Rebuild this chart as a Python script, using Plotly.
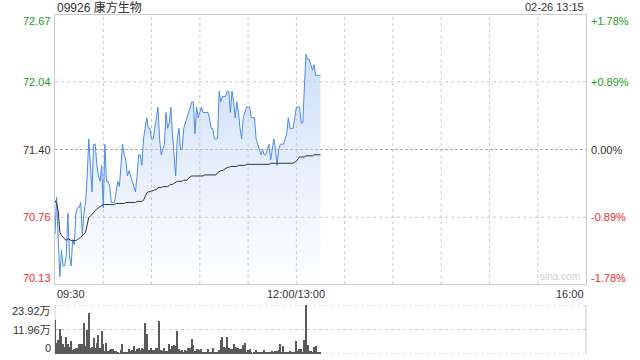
import plotly.graph_objects as go

# ---------------- data ----------------
title_text = "09926 康方生物"
time_text = "02-26 13:15"
prev_close = 71.40
price_ticks = [72.67, 72.04, 71.40, 70.76, 70.13]
pct_ticks = ["+1.78%", "+0.89%", "0.00%", "-0.89%", "-1.78%"]
vol_ticks = [23.92, 11.96, 0]
vol_tick_text = ["23.92万", "11.96万", "0"]
x_tick_text = ["09:30", "12:00/13:00", "16:00"]
x_tick_pos = [0, 150, 330]

prices = [
    70.60, 70.95, 70.55, 70.20, 70.45, 70.30, 70.30, 70.40, 70.80, 70.40,
    70.30, 70.55, 70.50, 70.80, 70.85, 70.85, 70.90, 70.60, 70.80, 70.90,
    71.15, 71.50, 71.25, 71.00, 71.45, 71.45, 71.25, 71.15, 71.10, 71.25,
    70.85, 71.45, 71.10, 71.10, 71.05, 70.90, 70.90, 70.90, 71.00, 71.10,
    71.05, 71.25, 71.45, 71.35, 71.30, 71.15, 71.20, 71.15, 71.10, 71.05,
    71.00, 71.15, 71.35, 71.35, 71.25, 71.50, 71.60, 71.70, 71.60, 71.60,
    71.50, 71.50, 71.60, 71.70, 71.80, 71.50, 71.35, 71.40, 71.45, 71.75,
    71.60, 71.65, 71.80, 71.55, 71.35, 71.15, 71.50, 71.60, 71.40, 71.40,
    71.60, 71.65, 71.70, 71.75, 71.80, 71.85, 71.85, 71.55, 71.80, 71.70,
    71.75, 71.80, 71.75, 71.75, 71.75, 71.75, 71.70, 71.60, 71.60, 71.50,
    71.50, 71.50, 71.95, 71.85, 71.90, 71.90, 71.90, 71.95, 71.95, 71.75,
    71.95, 71.85, 71.70, 71.85, 71.75, 71.60, 71.50, 71.70, 71.75, 71.80,
    71.80, 71.80, 71.70, 71.70, 71.70, 71.50, 71.45, 71.40, 71.35, 71.40,
    71.35, 71.35, 71.40, 71.45, 71.30, 71.40, 71.50, 71.40, 71.25, 71.40,
    71.45, 71.45, 71.45, 71.50, 71.55, 71.70, 71.60, 71.60, 71.60, 71.70,
    71.80, 71.80, 71.80, 71.65, 71.65, 72.00, 72.30, 72.25, 72.25, 72.20,
    72.15, 72.20, 72.10, 72.10, 72.10, 72.10,
]

avg_prices = [
    70.92, 70.89, 70.82, 70.62, 70.59, 70.57, 70.55, 70.54, 70.56, 70.55,
    70.54, 70.54, 70.54, 70.54, 70.55, 70.56, 70.57, 70.59, 70.60, 70.62,
    70.71, 70.76, 70.77, 70.79, 70.81, 70.82, 70.84, 70.85, 70.86, 70.87,
    70.88, 70.88, 70.88, 70.88, 70.88, 70.88, 70.88, 70.88, 70.89, 70.89,
    70.89, 70.89, 70.89, 70.89, 70.90, 70.90, 70.90, 70.90, 70.90, 70.90,
    70.90, 70.91, 70.91, 70.91, 70.91, 70.92, 70.95, 70.99, 71.00, 71.00,
    71.01, 71.01, 71.02, 71.02, 71.04, 71.04, 71.04, 71.05, 71.05, 71.05,
    71.05, 71.06, 71.07, 71.07, 71.08, 71.09, 71.10, 71.10, 71.10, 71.10,
    71.11, 71.11, 71.11, 71.13, 71.14, 71.15, 71.15, 71.15, 71.15, 71.15,
    71.15, 71.15, 71.15, 71.16, 71.16, 71.16, 71.16, 71.16, 71.16, 71.16,
    71.16, 71.18, 71.19, 71.20, 71.20, 71.21, 71.22, 71.23, 71.23, 71.24,
    71.24, 71.24, 71.24, 71.24, 71.25, 71.25, 71.25, 71.25, 71.25, 71.26,
    71.26, 71.26, 71.26, 71.26, 71.26, 71.26, 71.26, 71.26, 71.26, 71.26,
    71.26, 71.26, 71.26, 71.26, 71.27, 71.27, 71.27, 71.27, 71.27, 71.27,
    71.27, 71.27, 71.27, 71.27, 71.27, 71.27, 71.27, 71.27, 71.27, 71.28,
    71.29, 71.31, 71.33, 71.33, 71.33, 71.33, 71.34, 71.34, 71.34, 71.34,
    71.34, 71.35, 71.35, 71.35, 71.35, 71.35,
]

volumes = [  # 万股 per minute
    16.8, 5.4, 6.9, 12.1, 8.7, 5.0, 3.5, 8.2, 5.0, 3.5,
    6.3, 1.9, 2.2, 3.1, 2.7, 5.0, 5.0, 5.0, 15.3, 4.1,
    11.6, 20.0, 3.1, 3.5, 7.9, 2.7, 5.4, 9.4, 3.1, 11.0,
    5.0, 1.6, 5.4, 1.6, 1.9, 2.5, 2.5, 1.3, 1.6, 0.9,
    0.3, 1.9, 4.7, 1.1, 0.6, 0.5, 2.4, 1.4, 1.9, 3.8,
    1.6, 2.2, 3.1, 1.9, 3.0, 2.4, 15.3, 9.8, 1.9, 1.9,
    3.1, 1.9, 1.9, 2.7, 3.1, 16.1, 1.9, 1.6, 3.1, 1.6,
    1.6, 5.0, 2.4, 4.1, 4.2, 3.8, 11.0, 2.2, 1.6, 1.9,
    1.1, 1.9,
    1.6, 3.0, 3.0, 7.2, 4.2, 1.6, 2.2, 2.2, 1.9, 2.2,
    0.6, 0.6, 0.6, 2.4, 1.1, 1.1, 3.0, 0.6, 1.1, 1.1,
    1.9, 6.9, 8.5, 3.5, 3.1, 8.5, 3.0, 2.4, 2.4, 4.7,
    3.5, 3.1, 2.7, 2.2, 2.5, 4.2, 5.4, 0.9, 1.9, 2.2,
    0.6, 0.3, 1.1, 1.9, 0.6, 0.6, 0.6, 0.9, 1.9, 0.6,
    0.6, 0.6, 0.9, 1.6, 0.6, 1.6, 1.6, 1.9, 4.7, 1.1,
    3.8, 0.6, 0.6, 0.6, 1.6, 0.6, 0.6, 0.6, 6.3, 1.6,
    2.4, 2.4, 0.6, 6.6, 23.9, 4.2, 1.6, 1.6, 0.6, 3.5,
    3.8, 0.6, 0.6, 0.6,
]

minutes = list(range(len(prices)))
vol_minutes = list(range(len(volumes)))

# ---------------- style ----------------
FONT = "Liberation Sans, Arial, Noto Sans CJK SC, sans-serif"
GREEN = "#1c9e1c"
RED = "#ee2a2a"
DARK = "#333333"
BORDER = "#cccccc"
GRID = "#c8c8c8"

fig = go.Figure()

fig.add_trace(go.Scatter(
    x=minutes, y=prices, mode="lines",
    line=dict(color="#4c8ae6", width=1),
    fill="tozeroy",
    fillgradient=dict(type="vertical",
                      colorscale=[[0, "rgba(190,212,245,0)"], [1, "rgba(190,212,245,0.75)"]],
                      start=70.13, stop=72.30),
    xaxis="x", yaxis="y", hoverinfo="skip", showlegend=False,
))
fig.add_trace(go.Scatter(
    x=minutes, y=avg_prices, mode="lines",
    line=dict(color="#333333", width=1),
    xaxis="x", yaxis="y", hoverinfo="skip", showlegend=False,
))
fig.add_trace(go.Bar(
    x=vol_minutes, y=volumes, width=0.75,
    marker=dict(color="#5a5a5a", line=dict(width=0)),
    xaxis="x2", yaxis="y2", hoverinfo="skip", showlegend=False,
))

price_dom = [(354 - 284) / 339, 1.0]
vol_dom = [0.0, (354 - 305) / 339]

fig.update_layout(
    width=640, height=360,
    margin=dict(l=55, r=54, t=15, b=6),
    paper_bgcolor="white", plot_bgcolor="white",
    font=dict(family=FONT, size=11, color=DARK),
    bargap=0,
    xaxis=dict(domain=[0, 1], range=[0, 330], anchor="y",
               showticklabels=False, ticks="", showgrid=False,
               showline=True, linecolor=BORDER, linewidth=1, mirror=True, zeroline=False,
               fixedrange=True),
    yaxis=dict(domain=price_dom, range=[price_ticks[-1], price_ticks[0]], anchor="x",
               showticklabels=False, ticks="", showgrid=False,
               showline=True, linecolor=BORDER, linewidth=1, mirror=True, zeroline=False),
    xaxis2=dict(domain=[0, 1], range=[0, 330], anchor="y2", matches="x",
                showticklabels=False, ticks="", showgrid=False, showline=False, zeroline=False),
    yaxis2=dict(domain=vol_dom, range=[0, vol_ticks[0]], anchor="x2",
                showticklabels=False, ticks="", showgrid=False, showline=False, zeroline=False),
)

shapes = []
# price panel grid (every 30 minutes, and +/-0.89%)
for gx in range(30, 330, 30):
    shapes.append(dict(type="line", xref="x", yref="y", x0=gx, x1=gx,
                       y0=price_ticks[-1], y1=price_ticks[0],
                       line=dict(color=GRID, width=1, dash="dot"), layer="below"))
for gy in (price_ticks[1], price_ticks[3]):
    shapes.append(dict(type="line", xref="x", yref="y", x0=0, x1=330, y0=gy, y1=gy,
                       line=dict(color=GRID, width=1, dash="dot"), layer="below"))
# previous close line
shapes.append(dict(type="line", xref="x", yref="y", x0=0, x1=330, y0=prev_close, y1=prev_close,
                   line=dict(color="#aaaaaa", width=1, dash="3px,2px"), layer="below"))
# volume panel frame
for v in vol_ticks:
    shapes.append(dict(type="line", xref="paper", yref="y2", x0=0, x1=1, y0=v, y1=v,
                       line=dict(color=GRID, width=1, dash="dot"), layer="below"))
for xp in (0, 1):
    shapes.append(dict(type="line", xref="paper", yref="y2", x0=xp, x1=xp, y0=0, y1=vol_ticks[0],
                       line=dict(color=BORDER, width=1), layer="below"))
fig.update_layout(shapes=shapes)

ann = []
label_colors = [GREEN, GREEN, DARK, RED, RED]
shifts = [-6, 0, 0, 0, 6]
for val, pct, col, sh in zip(price_ticks, pct_ticks, label_colors, shifts):
    ann.append(dict(xref="paper", yref="y", x=0, y=val, xanchor="right", yanchor="middle",
                    xshift=-2, yshift=sh, text=f"{val:.2f}", showarrow=False,
                    font=dict(color=col, size=11)))
    ann.append(dict(xref="paper", yref="y", x=1, y=val, xanchor="left", yanchor="middle",
                    xshift=3, yshift=sh, text=pct, showarrow=False,
                    font=dict(color=col, size=11)))
vshifts = [-6, 0, 6]
for v, t, sh in zip(vol_ticks, vol_tick_text, vshifts):
    ann.append(dict(xref="paper", yref="y2", x=0, y=v, xanchor="right", yanchor="middle",
                    xshift=-2, yshift=sh, text=t, showarrow=False,
                    font=dict(color=DARK, size=11)))
anchors = ["left", "center", "right"]
for pos, t, a in zip(x_tick_pos, x_tick_text, anchors):
    ann.append(dict(xref="x", yref="y", x=pos, y=price_ticks[-1], xanchor=a, yanchor="middle",
                    yshift=-10, text=t, showarrow=False, font=dict(color=DARK, size=11)))
ann.append(dict(xref="paper", yref="paper", x=0, y=1, xanchor="left", yanchor="middle",
                yshift=8, text=title_text, showarrow=False, font=dict(color=DARK, size=12)))
ann.append(dict(xref="paper", yref="paper", x=1, y=1, xanchor="right", yanchor="middle",
                yshift=8, text=time_text, showarrow=False, font=dict(color=DARK, size=11)))
ann.append(dict(xref="paper", yref="y", x=1, y=price_ticks[-1], xanchor="right", yanchor="bottom",
                xshift=-4, yshift=0, text="sina.com", showarrow=False,
                font=dict(color="#d0d0d0", size=10)))
fig.update_layout(annotations=ann)

fig.write_html("out.html")
